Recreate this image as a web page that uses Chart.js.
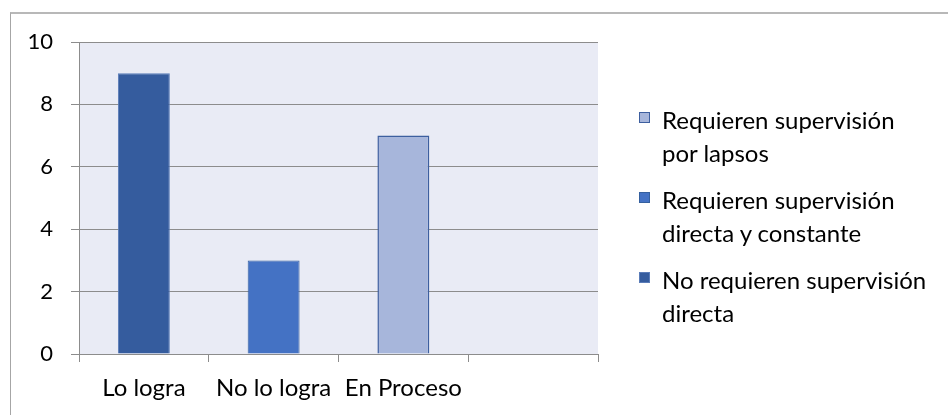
<!DOCTYPE html>
<html>
<head>
<meta charset="utf-8">
<script src="https://cdn.jsdelivr.net/npm/chart.js@4/dist/chart.umd.min.js"></script>
<style>
  body { margin: 0; background: #fff; }
  #wrap { position: relative; width: 948px; height: 415px; overflow: hidden; }
  #frame { position: absolute; left: 10px; top: 12px; width: 960px; height: 420px;
           border-left: 1px solid #a6a6a6; border-top: 2px solid #b8b8b8; }
  canvas { position: absolute; left: 0; top: 0; }
  #legend { position: absolute; left: 639px; top: 103px; font-family: Lato, sans-serif;
            font-size: 24px; color: #000; }
  .item { position: relative; padding-left: 23px; line-height: 33px; margin-bottom: 14px; white-space: nowrap; }
  .box { position: absolute; left: 0; top: 9px; width: 9px; height: 9px; border: 1px solid; }
</style>
</head>
<body>
<div id="wrap">
  <div id="frame"></div>
  <canvas id="chart" width="948" height="415"></canvas>
  <div id="legend"></div>
</div>
<script>
// datos
const categories = ['Lo logra', 'No lo logra', 'En Proceso', ''];
const noRequieren = [9, null, null, null];
const directaConstante = [null, 3, null, null];
const porLapsos = [null, null, 7, null];

const seriesNames = [
  'No requieren supervisión directa',
  'Requieren supervisión directa y constante',
  'Requieren supervisión por lapsos'
];
// texto de la leyenda partido en dos líneas como en el original
const legendLines = [
  ['No requieren supervisión', 'directa'],
  ['Requieren supervisión', 'directa y constante'],
  ['Requieren supervisión', 'por lapsos']
];
const fills = ['#355c9e', '#4472c4', '#a7b6db'];
const borders = ['#5a7cb8', '#35609f', '#3d5f9f'];
const borderWidths = [1, 1, 1.5];

const tickFont = { family: 'Lato, sans-serif', size: 22 };
const catFont = { family: 'Lato, sans-serif', size: 24 };

// fondo del área de trazado
const plotBg = {
  id: 'plotBg',
  beforeDraw(chart) {
    const a = chart.chartArea;
    const ctx = chart.ctx;
    ctx.save();
    ctx.fillStyle = '#e9ebf5';
    ctx.fillRect(a.left, a.top, a.right - a.left, a.bottom - a.top);
    ctx.restore();
  }
};

const allSeries = [noRequieren, directaConstante, porLapsos];

const chart = new Chart(document.getElementById('chart'), {
  type: 'bar',
  data: {
    labels: categories,
    datasets: allSeries.map((d, i) => ({
      label: seriesNames[i],
      data: d,
      backgroundColor: fills[i],
      borderColor: borders[i],
      borderWidth: borderWidths[i],
      barPercentage: 0.4,
      categoryPercentage: 1
    }))
  },
  options: {
    responsive: false,
    animation: false,
    layout: { padding: { left: 0, right: 350, top: 42, bottom: 0 } },
    plugins: { legend: { display: false }, tooltip: { enabled: false } },
    scales: {
      x: {
        stacked: true,
        grid: { drawOnChartArea: false, tickLength: 8, color: '#8c8c8c', offset: true },
        border: { color: '#8c8c8c' },
        ticks: { color: '#000', font: catFont, padding: 12, maxRotation: 0 },
        afterFit(s) { s.height = 61; }
      },
      y: {
        stacked: true,
        min: 0,
        max: 10,
        grid: { tickLength: 8, color: '#8c8c8c' },
        border: { color: '#8c8c8c' },
        ticks: { stepSize: 2, color: '#000', font: tickFont, padding: 18 },
        afterFit(s) { s.width = 79; }
      }
    }
  },
  plugins: [plotBg]
});

// leyenda en HTML, orden invertido como en Excel
const legendDiv = document.getElementById('legend');
for (let i = chart.data.datasets.length - 1; i >= 0; i--) {
  const ds = chart.data.datasets[i];
  const item = document.createElement('div');
  item.className = 'item';
  item.innerHTML = '<span class="box" style="background:' + ds.backgroundColor +
    ';border-color:' + ds.borderColor + '"></span>' + legendLines[i].join('<br>');
  legendDiv.appendChild(item);
}
</script>
</body>
</html>
